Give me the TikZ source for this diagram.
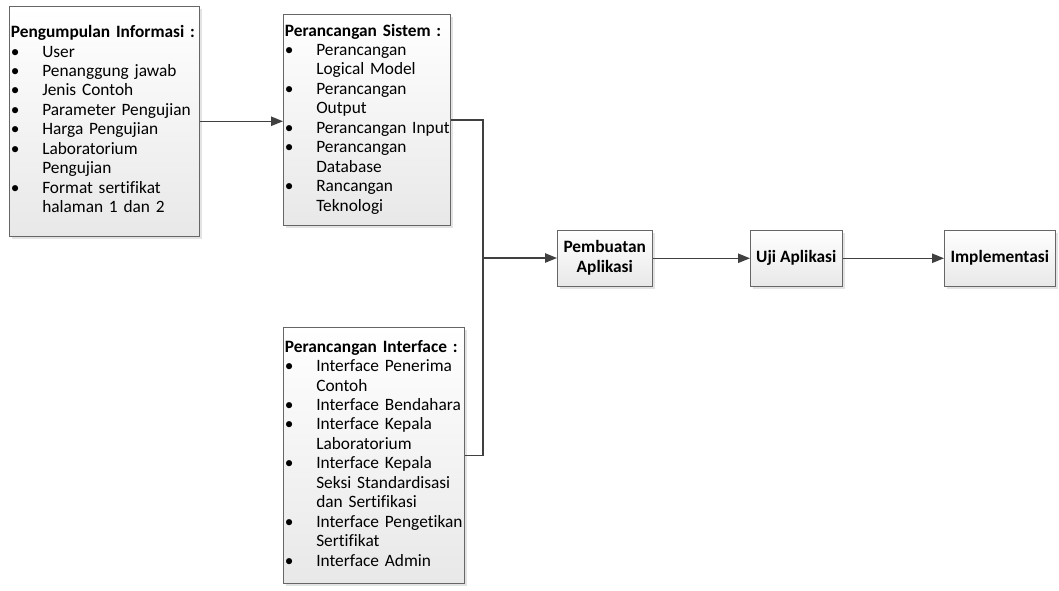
\documentclass[tikz,border=0pt]{standalone}
\usepackage{fontspec}
\setmainfont{Carlito}[Ligatures=NoCommon]
\usetikzlibrary{shadows,arrows.meta}

\tikzset{
  boxfill/.style={draw=black!60, top color=white, bottom color=black!9,
    drop shadow={shadow xshift=2pt, shadow yshift=-2pt, fill=black!22}},
  infobox/.style={boxfill, anchor=north west, inner sep=1pt, align=left,
    font=\fontsize{13}{14.6}\selectfont},
  stepbox/.style={boxfill, anchor=north west, minimum height=42pt, inner sep=1pt,
    align=center, font=\fontsize{13}{15}\selectfont\bfseries},
  link/.style={draw=black!75, line width=1.1pt},
  flow/.style={link, -{Triangle[length=9pt,width=7pt]}},
}

\begin{document}
\begin{tikzpicture}[x=0.75pt,y=-0.75pt]
            \useasboundingbox (0,0) rectangle (1059,590);
            % kotak informasi
            \node[infobox, minimum width=142.5pt, minimum height=172.5pt, text width=140pt] (info) at (9,6)
              {\begin{tabular}{@{}p{23.5pt}@{}l@{}}
               \multicolumn{2}{@{}l@{}}{\textbf{Pengumpulan Informasi :}}\\
               \textbullet & User\\
               \textbullet & Penanggung jawab\\
               \textbullet & Jenis Contoh\\
               \textbullet & Parameter Pengujian\\
               \textbullet & Harga Pengujian\\
               \textbullet & Laboratorium\\
                           & Pengujian\\
               \textbullet & Format sertifikat\\
                           & halaman 1 dan 2
               \end{tabular}};
            \node[infobox, minimum width=125.25pt, minimum height=158.25pt, text width=122.75pt] (sistem) at (283,14)
              {\begin{tabular}{@{}p{23.5pt}@{}l@{}}
               \multicolumn{2}{@{}l@{}}{\textbf{Perancangan Sistem :}}\\
               \textbullet & Perancangan\\
                           & Logical Model\\
               \textbullet & Perancangan\\
                           & Output\\
               \textbullet & Perancangan Input\\
               \textbullet & Perancangan\\
                           & Database\\
               \textbullet & Rancangan\\
                           & Teknologi
               \end{tabular}};
            \node[infobox, minimum width=135.75pt, minimum height=192pt, text width=133.25pt] (iface) at (283,327)
              {\begin{tabular}{@{}p{23.5pt}@{}l@{}}
               \multicolumn{2}{@{}l@{}}{\textbf{Perancangan Interface :}}\\
               \textbullet & Interface Penerima\\
                           & Contoh\\
               \textbullet & Interface Bendahara\\
               \textbullet & Interface Kepala\\
                           & Laboratorium\\
               \textbullet & Interface Kepala\\
                           & Seksi Standardisasi\\
                           & dan Sertifikasi\\
               \textbullet & Interface Pengetikan\\
                           & Sertifikat\\
               \textbullet & Interface Admin
               \end{tabular}};
            % tahapan
            \node[stepbox, minimum width=71.25pt] (buat) at (557,230) {Pembuatan\\Aplikasi};
            \node[stepbox, minimum width=69pt] (uji) at (750,230) {Uji Aplikasi};
            \node[stepbox, minimum width=83.25pt] (impl) at (944,230) {Implementasi};
            \coordinate (join) at (483,258);
            % penghubung
            \draw[flow] (info.east) -- (info.east -| sistem.west);
            \draw[link] (sistem.east) -| (join) |- (iface.east);
            \draw[flow] (join) -- (join -| buat.west);
            \draw[flow] (buat) -- (uji);
            \draw[flow] (uji) -- (impl);
        \end{tikzpicture}
\end{document}
